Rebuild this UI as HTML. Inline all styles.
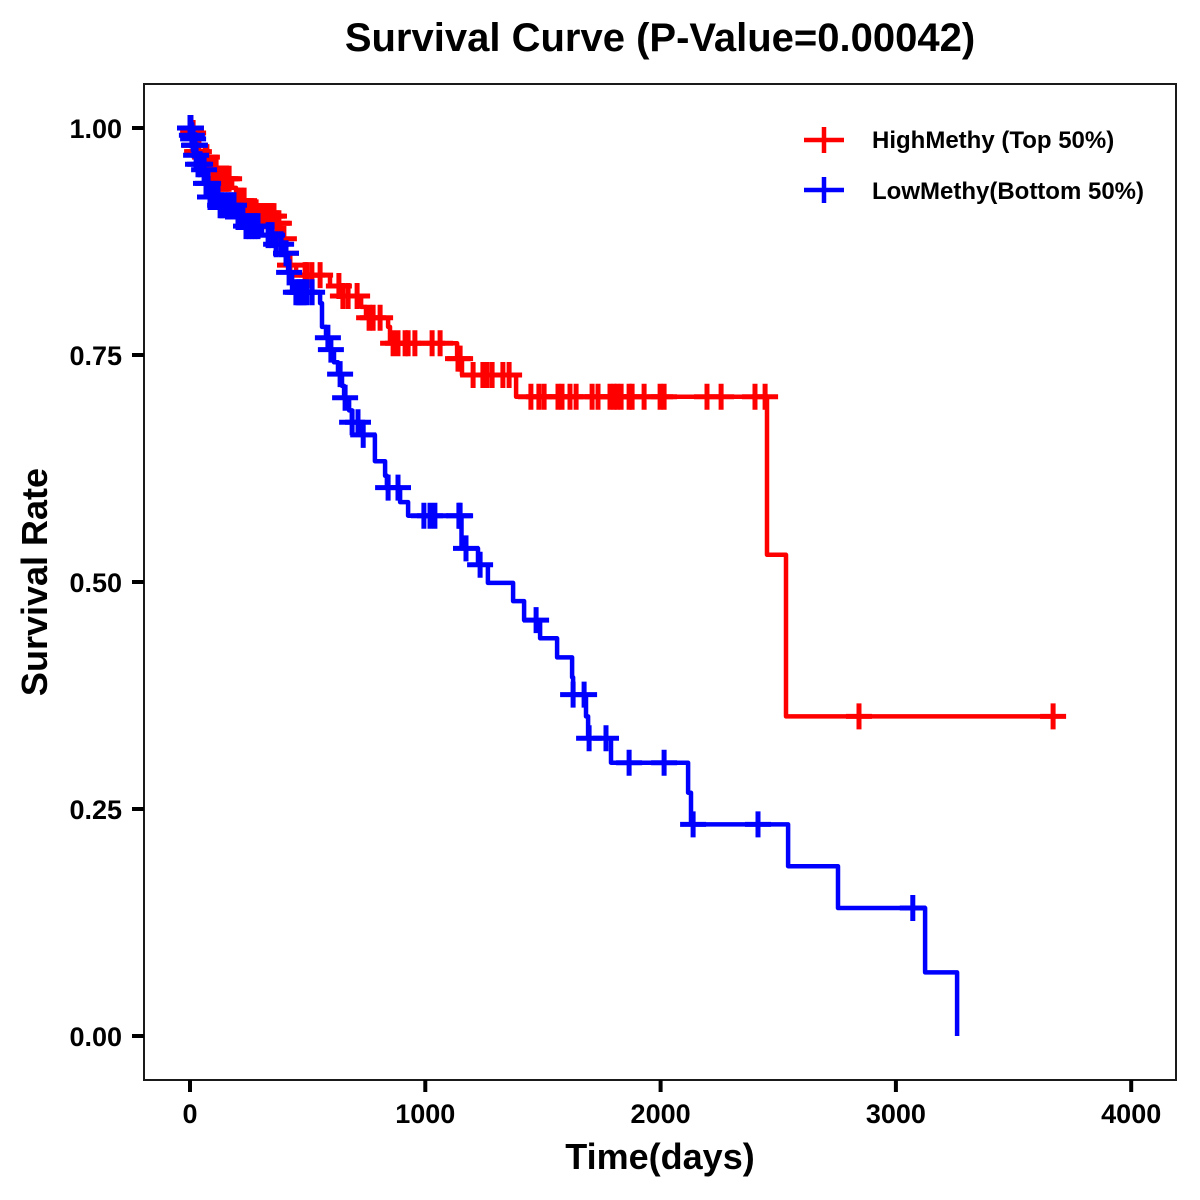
<!DOCTYPE html>
<html lang="en">
<head>
<meta charset="utf-8">
<title>Survival Curve</title>
<style>
html,body{margin:0;padding:0;background:#fff;width:1200px;height:1200px;overflow:hidden}
svg{display:block}
text{font-family:"Liberation Sans",Arial,sans-serif;font-weight:bold;fill:#000}
</style>
</head>
<body>
<svg id="chart" width="1200" height="1200" viewBox="0 0 1200 1200" xmlns="http://www.w3.org/2000/svg">
<rect x="0" y="0" width="1200" height="1200" fill="#fff"/>
<text x="660" y="51" font-size="40" text-anchor="middle">Survival Curve (P-Value=0.00042)</text>
<rect x="144" y="84" width="1032" height="996" fill="#fff" stroke="#1a1a1a" stroke-width="2"/>
<g id="x-axis"></g>
<g id="y-axis"></g>
<text x="660" y="1169" font-size="36" text-anchor="middle">Time(days)</text>
<text transform="translate(47,582) rotate(-90)" font-size="36" text-anchor="middle">Survival Rate</text>
<g id="series"></g>
<g>
<g>
<path d="M804 140H844M824 127V153" stroke="#ff0000" stroke-width="4.5" fill="none"/>
<text x="872" y="148" font-size="24">HighMethy (Top 50%)</text>
</g>
<g>
<path d="M804 190H844M824 177V203" stroke="#0000ff" stroke-width="4.5" fill="none"/>
<text x="872" y="199" font-size="24">LowMethy(Bottom 50%)</text>
</g>
</g>
</svg>
<script>
const xTickValues = [0, 1000, 2000, 3000, 4000];
const yTickValues = [0, 0.25, 0.5, 0.75, 1];
const yTickLabels = ["0.00", "0.25", "0.50", "0.75", "1.00"];

const highTimes = [0,13,17,21,26,60,85,115,179,196,238,285,361,383,404,417,451,595,646,727,748,842,850,1135,1156,1386,2452,2533,3668];
const highSurvival = [1,0.9945,0.989,0.981,0.974,0.968,0.956,0.944,0.934,0.92,0.907,0.903,0.895,0.878,0.862,0.849,0.838,0.826,0.815,0.803,0.791,0.781,0.763,0.746,0.728,0.704,0.53,0.352,0.352];
const highCensored = [4,13,21,30,38,64,72,98,111,119,123,132,140,149,157,166,204,217,230,247,259,272,281,289,298,306,315,323,332,340,349,357,370,378,399,408,425,489,497,518,553,633,650,672,710,761,778,808,863,884,914,927,956,1029,1063,1139,1148,1203,1245,1262,1284,1330,1356,1449,1483,1505,1564,1581,1615,1641,1709,1734,1785,1802,1815,1832,1866,1879,1930,1998,2015,2197,2257,2401,2444,2843,3668];

const lowTimes = [0,8,13,17,26,34,51,64,81,128,204,228,306,357,400,417,434,553,561,578,595,612,629,646,655,676,689,723,786,829,837,893,927,1154,1224,1266,1373,1420,1488,1560,1624,1628,1683,1692,1789,2117,2129,2542,2754,3124,3260];
const lowSurvival = [1,0.992,0.988,0.981,0.97,0.96,0.954,0.939,0.924,0.915,0.902,0.892,0.882,0.872,0.862,0.841,0.819,0.807,0.781,0.769,0.756,0.742,0.729,0.716,0.703,0.689,0.676,0.662,0.633,0.617,0.604,0.588,0.573,0.537,0.519,0.499,0.479,0.458,0.438,0.417,0.395,0.376,0.352,0.328,0.301,0.268,0.233,0.187,0.141,0.07,0];
const lowCensored = [0,4,8,13,17,21,26,34,43,60,68,77,85,94,102,111,119,128,136,149,162,174,187,204,214,225,238,251,264,276,289,332,349,366,387,408,421,450,459,468,476,485,497,519,586,599,638,659,689,714,736,842,884,994,1020,1041,1143,1148,1173,1233,1471,1628,1675,1696,1768,1866,2015,2138,2414,3072];

const SVG_NS = "http://www.w3.org/2000/svg";
const xScale = function (t) { return 190 + t * 0.2353; };
const yScale = function (s) { return 1036 - s * 908; };

function survivalAt(times, survival, t) {
  let s = survival[0];
  for (let i = 0; i < times.length; i++) {
    if (times[i] <= t) { s = survival[i]; } else { break; }
  }
  return s;
}

function stepPath(times, survival) {
  let d = "M" + xScale(times[0]).toFixed(1) + " " + yScale(survival[0]).toFixed(1);
  for (let i = 1; i < times.length; i++) {
    d += "H" + xScale(times[i]).toFixed(1) + "V" + yScale(survival[i]).toFixed(1);
  }
  return d;
}

function drawSeries(key, color, times, survival, censored) {
  const root = document.getElementById("series");
  const group = document.createElementNS(SVG_NS, "g");
  
  
  root.appendChild(group);

  const curve = document.createElementNS(SVG_NS, "path");
  
  
  curve.setAttribute("d", stepPath(times, survival));
  curve.setAttribute("fill", "none");
  curve.setAttribute("stroke", color);
  curve.setAttribute("stroke-width", "4.5");
  curve.setAttribute("stroke-linejoin", "round");
  group.appendChild(curve);

  censored.forEach(function (t) {
    const cx = xScale(t);
    const cy = yScale(survivalAt(times, survival, t));
    const mark = document.createElementNS(SVG_NS, "path");
    
    
    mark.setAttribute("d", "M" + (cx - 13).toFixed(1) + " " + cy.toFixed(1) + "H" + (cx + 13).toFixed(1) + "M" + cx.toFixed(1) + " " + (cy - 13).toFixed(1) + "V" + (cy + 13).toFixed(1));
    mark.setAttribute("fill", "none");
    mark.setAttribute("stroke", color);
    mark.setAttribute("stroke-width", "5");
    group.appendChild(mark);
  });
}

function drawAxes() {
  const xAxis = document.getElementById("x-axis");
  xTickValues.forEach(function (v) {
    const tick = document.createElementNS(SVG_NS, "line");
    
    
    tick.setAttribute("x1", xScale(v));
    tick.setAttribute("x2", xScale(v));
    tick.setAttribute("y1", 1080);
    tick.setAttribute("y2", 1092);
    tick.setAttribute("stroke", "#000");
    tick.setAttribute("stroke-width", "4");
    xAxis.appendChild(tick);
    const label = document.createElementNS(SVG_NS, "text");
    
    
    label.setAttribute("x", xScale(v));
    label.setAttribute("y", 1123);
    label.setAttribute("font-size", "27");
    label.setAttribute("text-anchor", "middle");
    label.textContent = String(v);
    xAxis.appendChild(label);
  });
  const yAxis = document.getElementById("y-axis");
  yTickValues.forEach(function (v, i) {
    const tick = document.createElementNS(SVG_NS, "line");
    
    
    tick.setAttribute("x1", 132);
    tick.setAttribute("x2", 144);
    tick.setAttribute("y1", yScale(v));
    tick.setAttribute("y2", yScale(v));
    tick.setAttribute("stroke", "#000");
    tick.setAttribute("stroke-width", "4");
    yAxis.appendChild(tick);
    const label = document.createElementNS(SVG_NS, "text");
    
    
    label.setAttribute("x", 122);
    label.setAttribute("y", yScale(v) + 10);
    label.setAttribute("font-size", "27");
    label.setAttribute("text-anchor", "end");
    label.textContent = yTickLabels[i];
    yAxis.appendChild(label);
  });
}

drawAxes();
drawSeries("high", "#ff0000", highTimes, highSurvival, highCensored);
drawSeries("low", "#0000ff", lowTimes, lowSurvival, lowCensored);
</script>
</body>
</html>
